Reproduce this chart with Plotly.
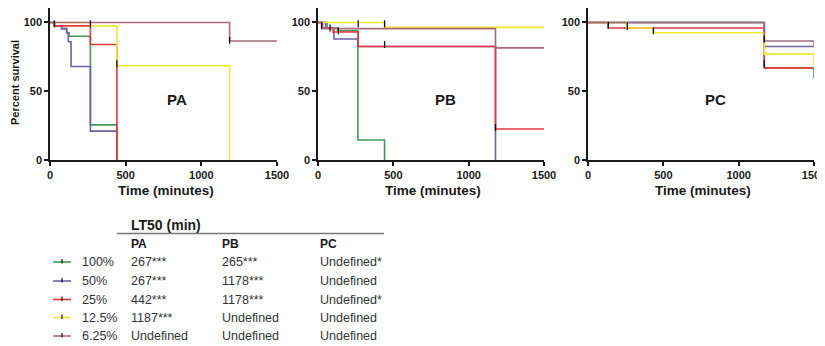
import plotly.graph_objects as go

W, H = 825, 346
OFF = 8  # page body margin in the browser
FW, FH = W, H
FONT = "Arial, Liberation Sans, sans-serif"

# ---------------- data ----------------
GROUPS = ["100%", "50%", "25%", "12.5%", "6.25%"]
COLORS = ["#3f9b56", "#6a62a3", "#e5393b", "#f2e533", "#a8697a"]
PANELS = ["PA", "PB", "PC"]
X_TICKS = [0, 500, 1000, 1500]
Y_TICKS = [0, 50, 100]

# PA survival (time in minutes, percent survival)
PA_100_t = [0, 29, 77, 110, 126, 267, 442]
PA_100_s = [100, 97.5, 95.5, 92.5, 90, 25.5, 0]
PA_50_t = [0, 29, 77, 110, 121, 139, 267, 442]
PA_50_s = [100, 97.5, 95.5, 92.5, 86, 68, 21, 0]
PA_25_t = [0, 29, 267, 442]
PA_25_s = [100, 97.5, 84, 0]
PA_12_t = [0, 267, 442, 1187]
PA_12_s = [100, 97.5, 68.5, 0]
PA_6_t = [0, 1187, 1500]
PA_6_s = [100, 86.5, 86.5]
PA_cens_t = [29, 267, 442, 1187]
PA_cens_s = [99, 99, 70, 87]

# PB survival
PB_100_t = [0, 60, 130, 265, 442]
PB_100_s = [100, 96, 94, 14.5, 0]
PB_50_t = [0, 50, 106, 267, 1178]
PB_50_s = [100, 96, 88, 82.5, 0]
PB_25_t = [0, 30, 100, 267, 1178, 1500]
PB_25_s = [100, 96, 93, 82.5, 22.5, 22.5]
PB_12_t = [0, 442, 1500]
PB_12_s = [100, 96.4, 96.4]
PB_6_t = [0, 24, 1178, 1500]
PB_6_s = [100, 95.5, 81.5, 81.5]
PB_cens_t = [24, 80, 135, 267, 442, 442, 1178]
PB_cens_s = [97.8, 96, 94, 99, 99, 84, 23.6]

# PC survival
PC_100_t = [0, 1170, 1500]
PC_100_s = [100, 67, 59.5]
PC_50_t = [0, 1170, 1500]
PC_50_s = [100, 82.5, 82.5]
PC_25_t = [0, 133, 1170, 1500]
PC_25_s = [100, 96, 67, 67]
PC_12_t = [0, 259, 432, 1170, 1500]
PC_12_s = [100, 96, 92.5, 77, 67]
PC_6_t = [0, 1170, 1500]
PC_6_s = [100, 86.5, 82.5]
PC_cens_t = [135, 261, 434, 1170, 1170]
PC_cens_s = [98, 97, 94, 88, 70]

# LT50 table
LT50_PA = ["267***", "267***", "442***", "1187***", "Undefined"]
LT50_PB = ["265***", "1178***", "1178***", "Undefined", "Undefined"]
LT50_PC = ["Undefined*", "Undefined", "Undefined*", "Undefined", "Undefined"]

SERIES = {
    "PA": [(PA_100_t, PA_100_s), (PA_50_t, PA_50_s), (PA_25_t, PA_25_s), (PA_12_t, PA_12_s), (PA_6_t, PA_6_s)],
    "PB": [(PB_100_t, PB_100_s), (PB_50_t, PB_50_s), (PB_25_t, PB_25_s), (PB_12_t, PB_12_s), (PB_6_t, PB_6_s)],
    "PC": [(PC_100_t, PC_100_s), (PC_50_t, PC_50_s), (PC_25_t, PC_25_s), (PC_12_t, PC_12_s), (PC_6_t, PC_6_s)],
}
CENSORS = {"PA": (PA_cens_t, PA_cens_s), "PB": (PB_cens_t, PB_cens_s), "PC": (PC_cens_t, PC_cens_s)}
LT50 = [LT50_PA, LT50_PB, LT50_PC]

# ---------------- layout geometry (screen pixels) ----------------
PLOT_X = [(50, 277), (318, 544), (588, 814)]
PLOT_TOP, PLOT_BOTTOM = 8, 160


def px(x):
    return (x - OFF) / FW


def py(y):
    return 1 - (y - OFF) / FH


fig = go.Figure()
layout = dict(
    width=FW, height=FH, margin=dict(l=0, r=0, t=0, b=0, autoexpand=False),
    paper_bgcolor="white", plot_bgcolor="white", showlegend=False,
    font=dict(family=FONT, color="#1a1a1a"),
)
annotations = []
shapes = []


def note(text, x, y, size, color="#1a1a1a", xanchor="left", yanchor="middle", angle=0):
    annotations.append(dict(text=text, x=px(x), y=py(y), xref="paper", yref="paper", xanchor=xanchor,
                            yanchor=yanchor, textangle=angle, showarrow=False,
                            font=dict(size=size, family=FONT, color=color)))


for i, panel in enumerate(PANELS):
    xa = "x" if i == 0 else f"x{i+1}"
    ya = "y" if i == 0 else f"y{i+1}"
    for (t, s), color in zip(SERIES[panel], COLORS):
        fig.add_trace(go.Scatter(x=t, y=s, mode="lines", line=dict(color=color, width=1.6, shape="hv"),
                                 xaxis=xa, yaxis=ya, hoverinfo="skip"))
    ct, cs = CENSORS[panel]
    fig.add_trace(go.Scatter(x=ct, y=cs, mode="markers", xaxis=xa, yaxis=ya, hoverinfo="skip",
                             marker=dict(symbol="line-ns", size=5, line=dict(color="#111", width=1.3))))
    axis_common = dict(showline=True, linecolor="#1a1a1a", linewidth=1.5, ticks="outside", ticklen=4,
                       tickwidth=1.5, tickcolor="#1a1a1a", showgrid=False, zeroline=False,
                       tickfont=dict(family=FONT, size=11, color="#1a1a1a", weight="bold"))
    x0, x1 = PLOT_X[i]
    layout["xaxis" if i == 0 else f"xaxis{i+1}"] = dict(
        axis_common, domain=[px(x0), px(x1)], range=[0, 1500], tickvals=X_TICKS, anchor=ya)
    layout["yaxis" if i == 0 else f"yaxis{i+1}"] = dict(
        axis_common, domain=[py(PLOT_BOTTOM), py(PLOT_TOP)], range=[0, 110.5], tickvals=Y_TICKS, anchor=xa)
    note("<b>Time (minutes)</b>", (x0 + x1) / 2 + 2, 190, 13.5, xanchor="center")
    note(f"<b>{panel}</b>", x0 + 127, 100, 15, xanchor="center")

note("<b>Percent survival</b>", 15, 83, 11, xanchor="center", angle=-90)

# ---------------- LT50 table ----------------
note("<b>LT50 (min)</b>", 129, 225, 14)
shapes.append(dict(type="line", xref="paper", yref="paper", x0=px(117), x1=px(384), y0=py(233.5), y1=py(233.5),
                   line=dict(color="#777", width=1.5)))
COL_X = [129, 220, 318]
for cx, panel in zip(COL_X, PANELS):
    note(f"<b>{panel}</b>", cx, 244, 12)
ROW_Y = [262, 281, 299.5, 317.5, 336]
for r, (g, color) in enumerate(zip(GROUPS, COLORS)):
    yy = ROW_Y[r]
    shapes.append(dict(type="line", xref="paper", yref="paper", x0=px(53), x1=px(71), y0=py(yy), y1=py(yy),
                       line=dict(color=color, width=1.6)))
    shapes.append(dict(type="line", xref="paper", yref="paper", x0=px(62), x1=px(62), y0=py(yy - 3),
                       y1=py(yy + 1.5), line=dict(color="#111", width=1.2)))
    note(g, 80, yy, 12.5, color="#333")
    for c, cx in enumerate(COL_X):
        note(LT50[c][r], cx, yy, 12.5, color="#333")

layout["annotations"] = annotations
layout["shapes"] = shapes
fig.update_layout(**layout)
fig.write_html("out.html")
